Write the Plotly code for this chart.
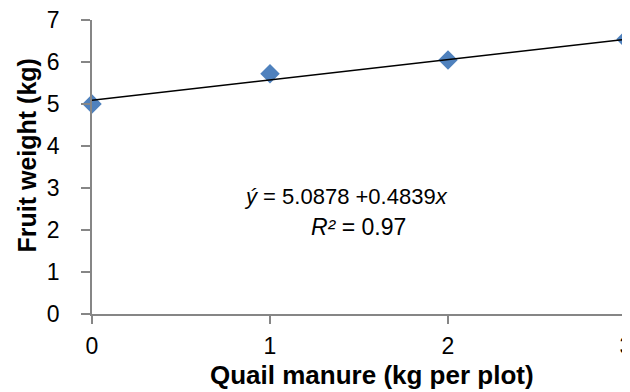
import plotly.graph_objects as go

# Data
manure = [0, 1, 2, 3]
fruit_weight = [5.0, 5.72, 6.05, 6.54]
intercept = 5.0878
slope = 0.4839
r_squared = 0.97
x_ticks = [0, 1, 2, 3]
y_ticks = [0, 1, 2, 3, 4, 5, 6, 7]
x_title = "Quail manure (kg per plot)"
y_title = "Fruit weight (kg)"

trend_x = [min(manure), max(manure)]
trend_y = [intercept + slope * v for v in trend_x]

FONT = "Liberation Sans, Arial, sans-serif"
AXIS_COLOR = "#868686"

fig = go.Figure()
fig.add_trace(go.Scatter(
    x=manure, y=fruit_weight, mode="markers",
    marker=dict(symbol="diamond", size=15, color="#4F81BD"),
    showlegend=False, cliponaxis=False,
))
fig.add_trace(go.Scatter(
    x=trend_x, y=trend_y, mode="lines",
    line=dict(color="black", width=1.5),
    showlegend=False, cliponaxis=False,
))

# regression equation
fig.add_annotation(
    x=0.84, y=2.79, xref="x", yref="y", xanchor="left", yanchor="middle",
    text=f"<i>ý</i> = {intercept} +{slope}<i>x</i>", showarrow=False,
    font=dict(family=FONT, size=22, color="black"),
)
fig.add_annotation(
    x=1.22, y=2.08, xref="x", yref="y", xanchor="left", yanchor="middle",
    text=f"<i>R²</i> = {r_squared}", showarrow=False,
    font=dict(family=FONT, size=23, color="black"),
)

# axis titles
fig.add_annotation(
    x=0.525, y=-0.2075, xref="paper", yref="paper", xanchor="center", yanchor="middle",
    text=f"<b>{x_title}</b>", showarrow=False,
    font=dict(family=FONT, size=26, color="black"),
)
fig.add_annotation(
    x=-0.1217, y=0.539, xref="paper", yref="paper", xanchor="center", yanchor="middle",
    text=f"<b>{y_title}</b>", showarrow=False, textangle=-90,
    font=dict(family=FONT, size=25, color="black"),
)

fig.update_layout(
    width=630, height=392,
    margin=dict(l=84, r=12, t=12, b=86, autoexpand=False),
    plot_bgcolor="white", paper_bgcolor="white",
    font=dict(family=FONT, color="black"),
)
fig.update_xaxes(
    range=[0, 3], tickvals=x_ticks, showgrid=False, zeroline=False,
    showline=True, linecolor=AXIS_COLOR, linewidth=1.5,
    ticks="outside", ticklen=8, tickcolor=AXIS_COLOR, tickwidth=1.5,
    tickfont=dict(family=FONT, size=23, color="black"),
    ticklabelstandoff=3, automargin=False, ticklabeloverflow="allow",
)
fig.update_yaxes(
    range=[0, 7], tickvals=y_ticks, showgrid=False, zeroline=False,
    showline=True, linecolor=AXIS_COLOR, linewidth=1.5,
    ticks="outside", ticklen=9, tickcolor=AXIS_COLOR, tickwidth=1.5,
    tickfont=dict(family=FONT, size=23, color="black"),
    ticklabelstandoff=17, automargin=False, ticklabeloverflow="allow",
)

fig.write_html("out.html")
